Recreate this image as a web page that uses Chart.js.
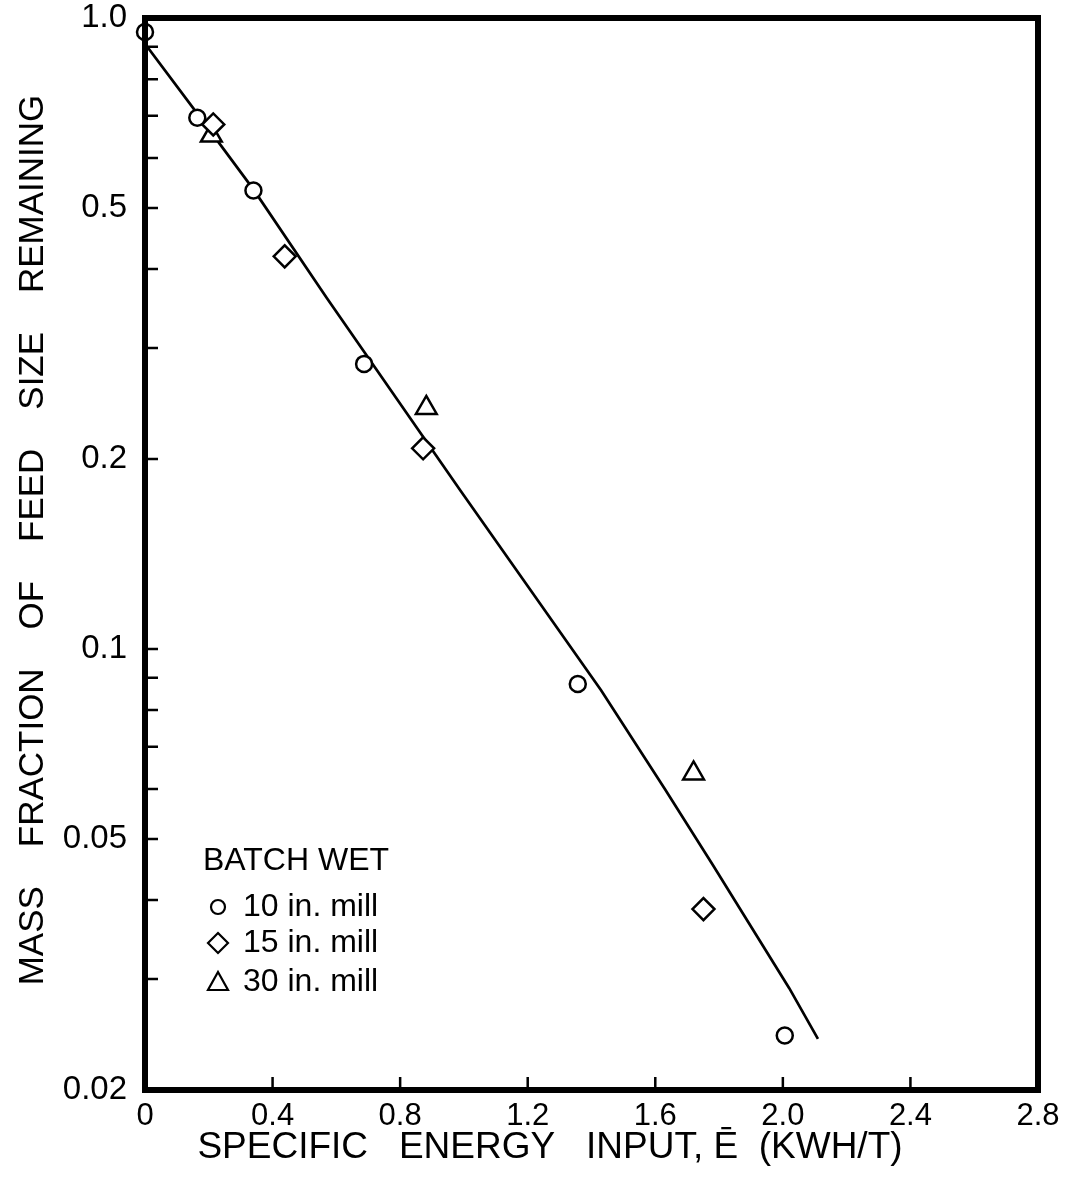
<!DOCTYPE html>
<html>
<head>
<meta charset="utf-8">
<script src="https://cdn.jsdelivr.net/npm/chart.js@4"></script>
<style>
  html, body { margin: 0; padding: 0; background: #fff; }
  #wrap { width: 1068px; height: 1178px; }
</style>
</head>
<body>
<div id="wrap"><canvas id="millChart"></canvas></div>
<script>
// data
var mill10E = [0, 0.164, 0.34, 0.687, 1.357, 2.006];
var mill10M = [0.95, 0.695, 0.533, 0.283, 0.088, 0.0244];
var mill15E = [0.214, 0.438, 0.872, 1.751];
var mill15M = [0.678, 0.419, 0.208, 0.0387];
var mill30E = [0.208, 0.882, 1.72];
var mill30M = [0.651, 0.241, 0.0635];
var fitE = [0, 0.16, 0.34, 0.57, 0.99, 1.43, 1.63, 1.78, 2.02, 2.11];
var fitM = [0.91, 0.71, 0.535, 0.36, 0.178, 0.086, 0.060, 0.0455, 0.029, 0.0241];

var yMajor = [1.0, 0.5, 0.2, 0.1, 0.05, 0.02];
var yMinor = [0.9, 0.8, 0.7, 0.6, 0.4, 0.3, 0.09, 0.08, 0.07, 0.06, 0.04, 0.03];
var yLabels = ['1.0', '0.5', '0.2', '0.1', '0.05', '0.02'];
var xTicks = [0, 0.4, 0.8, 1.2, 1.6, 2.0, 2.4, 2.8];
var xLabels = ['0', '0.4', '0.8', '1.2', '1.6', '2.0', '2.4', '2.8'];

var xTitle = 'SPECIFIC   ENERGY   INPUT, Ē  (KWH/T)';
var yTitle = 'MASS    FRACTION    OF    FEED    SIZE    REMAINING';
var legendTitle = 'BATCH WET';
var legendNames = ['10 in. mill', '15 in. mill', '30 in. mill'];

function pts(xs, ys) {
    return xs.map(function (x, i) { return { x: x, y: ys[i] }; });
}

var FONT = '"Liberation Sans", Arial, sans-serif';

// frame + inward ticks
var framePlugin = {
    id: 'frame',
    afterDatasetsDraw: function (chart) {
        var ctx = chart.ctx, a = chart.chartArea;
        var xs = chart.scales.x, ys = chart.scales.y;
        ctx.save();
        ctx.strokeStyle = '#000';
        ctx.lineWidth = 2.5;
        ctx.beginPath();
        yMajor.concat(yMinor).forEach(function (v) {
            var py = ys.getPixelForValue(v);
            ctx.moveTo(a.left, py);
            ctx.lineTo(a.left + 13, py);
        });
        xTicks.forEach(function (v) {
            var px = xs.getPixelForValue(v);
            ctx.moveTo(px, a.bottom);
            ctx.lineTo(px, a.bottom - 13);
        });
        ctx.stroke();
        ctx.lineWidth = 6;
        ctx.strokeRect(a.left, a.top, a.right - a.left, a.bottom - a.top);
        ctx.restore();
    }
};

// axis titles, placed like the original lettering
var captionPlugin = {
    id: 'captions',
    afterDraw: function (chart) {
        var ctx = chart.ctx, a = chart.chartArea;
        ctx.save();
        ctx.fillStyle = '#000';
        ctx.textAlign = 'center';
        ctx.textBaseline = 'middle';
        ctx.font = '37px ' + FONT;
        ctx.fillText(xTitle, a.left + 405, a.bottom + 58);
        ctx.translate(33, a.top + 522);
        ctx.rotate(-Math.PI / 2);
        ctx.font = '35px ' + FONT;
        ctx.fillText(yTitle, 0, 0);
        ctx.restore();
    }
};

var legendPlugin = {
    id: 'millLegend',
    afterDraw: function (chart) {
        var ctx = chart.ctx, a = chart.chartArea;
        var x0 = a.left + 58, sx = a.left + 73, tx = a.left + 98;
        var rows = [a.bottom - 183, a.bottom - 147, a.bottom - 108];
        ctx.save();
        ctx.fillStyle = '#000';
        ctx.strokeStyle = '#000';
        ctx.lineWidth = 2.2;
        ctx.textBaseline = 'middle';
        ctx.font = '32px ' + FONT;
        ctx.fillText(legendTitle, x0, a.bottom - 229);
        ctx.beginPath();
        ctx.arc(sx, rows[0], 7, 0, Math.PI * 2);
        ctx.stroke();
        ctx.beginPath();
        ctx.moveTo(sx, rows[1] - 10);
        ctx.lineTo(sx + 10, rows[1]);
        ctx.lineTo(sx, rows[1] + 10);
        ctx.lineTo(sx - 10, rows[1]);
        ctx.closePath();
        ctx.stroke();
        ctx.beginPath();
        ctx.moveTo(sx, rows[2] - 10);
        ctx.lineTo(sx + 10, rows[2] + 8);
        ctx.lineTo(sx - 10, rows[2] + 8);
        ctx.closePath();
        ctx.stroke();
        legendNames.forEach(function (t, i) {
            ctx.fillText(t, tx, rows[i]);
        });
        ctx.restore();
    }
};

var marker = {
    backgroundColor: '#fff',
    borderColor: '#000',
    borderWidth: 2.5,
    showLine: false,
    clip: false,
    order: 0
};

var ctx = document.getElementById('millChart').getContext('2d');
var myChart = new Chart(ctx, {
    type: 'scatter',
    data: {
        datasets: [
            Object.assign({ label: legendNames[0], data: pts(mill10E, mill10M), pointStyle: 'circle', pointRadius: 8 }, marker),
            Object.assign({ label: legendNames[1], data: pts(mill15E, mill15M), pointStyle: 'rectRot', pointRadius: 11 }, marker),
            Object.assign({ label: legendNames[2], data: pts(mill30E, mill30M), pointStyle: 'triangle', pointRadius: 12 }, marker),
            {
                label: 'fit',
                data: pts(fitE, fitM),
                showLine: true,
                borderColor: '#000',
                borderWidth: 2.7,
                pointRadius: 0,
                tension: 0,
                order: 1
            }
        ]
    },
    options: {
        responsive: true,
        maintainAspectRatio: false,
        animation: false,
        layout: { padding: { top: 18, right: 30, left: 0, bottom: 0 } },
        plugins: {
            legend: { display: false },
            tooltip: { enabled: false }
        },
        scales: {
            x: {
                type: 'linear',
                min: 0,
                max: 2.8,
                grid: { display: false },
                border: { display: false },
                afterBuildTicks: function (scale) {
                    scale.ticks = xTicks.map(function (v) { return { value: v }; });
                },
                afterFit: function (scale) {
                    scale.height = 88;
                    scale.paddingLeft = 0;
                    scale.paddingRight = 0;
                },
                ticks: {
                    padding: 0,
                    color: '#000',
                    font: { family: FONT, size: 31 },
                    callback: function (v) {
                        var i = xTicks.indexOf(v);
                        return i < 0 ? '' : xLabels[i];
                    }
                }
            },
            y: {
                type: 'logarithmic',
                min: 0.02,
                max: 1.0,
                grid: { display: false },
                border: { display: false },
                afterBuildTicks: function (scale) {
                    scale.ticks = yMajor.map(function (v) { return { value: v }; });
                },
                afterFit: function (scale) {
                    scale.width = 145;
                    scale.paddingTop = 0;
                    scale.paddingBottom = 0;
                },
                ticks: {
                    padding: 10,
                    color: '#000',
                    font: { family: FONT, size: 33 },
                    callback: function (v) {
                        var i = yMajor.indexOf(v);
                        return i < 0 ? '' : yLabels[i];
                    }
                }
            }
        }
    },
    plugins: [framePlugin, captionPlugin, legendPlugin]
});
</script>
</body>
</html>
